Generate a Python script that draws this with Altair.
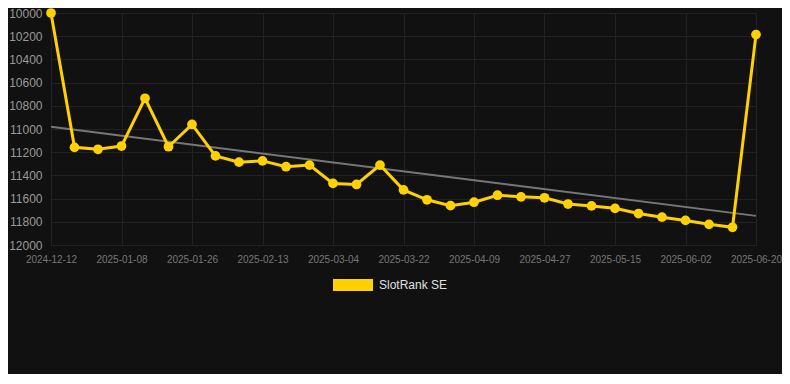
import altair as alt
import pandas as pd

dates = ["2024-12-12", "2024-12-21", "2024-12-30", "2025-01-08", "2025-01-14", "2025-01-20",
         "2025-01-26", "2025-02-01", "2025-02-07", "2025-02-13", "2025-02-19", "2025-02-25",
         "2025-03-04", "2025-03-10", "2025-03-16", "2025-03-22", "2025-03-28", "2025-04-03",
         "2025-04-09", "2025-04-15", "2025-04-21", "2025-04-27", "2025-05-03", "2025-05-09",
         "2025-05-15", "2025-05-21", "2025-05-27", "2025-06-02", "2025-06-08", "2025-06-14",
         "2025-06-20"]
ranks = [10000, 11158, 11175, 11147, 10735, 11153, 10961, 11232, 11286, 11275, 11325, 11311,
         11469, 11478, 11311, 11525, 11610, 11661, 11631, 11571, 11585, 11593, 11647, 11663,
         11684, 11729, 11760, 11788, 11822, 11847, 10186]
series_name = "SlotRank SE"
y_ticks = [10000, 10200, 10400, 10600, 10800, 11000, 11200, 11400, 11600, 11800, 12000]

YELLOW = "#FFD100"

df = pd.DataFrame({"idx": list(range(len(dates))), "date": dates, "rank": ranks,
                   "series": [series_name] * len(dates)})

label_array = "[" + ",".join("'" + d + "'" for d in dates) + "]"

x_enc = alt.X("idx:Q", scale=alt.Scale(domain=[0, len(dates) - 1], nice=False, zero=False),
              axis=alt.Axis(values=list(range(0, len(dates), 3)), labelExpr=label_array + "[datum.value]",
                            title=None, ticks=False, domain=False, labelPadding=9,
                            labelOverlap=False, labelFlush=False, labelFontSize=10,
                            labelColor="#777777", gridColor="#222222",
                            labelFont="Liberation Sans"))
y_enc = alt.Y("rank:Q", scale=alt.Scale(domain=[10000, 12000], reverse=True, nice=False, zero=False),
              axis=alt.Axis(values=y_ticks, format="d", title=None, ticks=False, domain=False,
                            labelPadding=9, labelOverlap=False, labelFlush=False,
                            labelFontSize=12, labelColor="#999999", gridColor="#222222",
                            labelFont="Liberation Sans"))

base = alt.Chart(df)

trend = base.transform_regression("idx", "rank").mark_line(
    color="#777777", strokeWidth=2).encode(x=x_enc, y=y_enc)

line = base.mark_line(color=YELLOW, strokeWidth=3).encode(x=x_enc, y=y_enc)

points = base.mark_point(filled=True, size=95, opacity=1).encode(
    x=x_enc, y=y_enc,
    color=alt.Color("series:N", scale=alt.Scale(domain=[series_name], range=[YELLOW]),
                    legend=alt.Legend(title=None, orient="none", legendX=282, legendY=252,
                                      symbolType="M-1,-0.3H1V0.3H-1Z", symbolSize=1600,
                                      symbolStrokeWidth=0, symbolOpacity=1, labelOffset=6,
                                      labelFontSize=12, labelColor="#e0e0e0",
                                      labelFont="Liberation Sans", padding=0)))

chart = alt.layer(trend, line, points).properties(
    width=705, height=232,
    background="#111111",
    autosize=alt.AutoSizeParams(type="none"),
    padding={"left": 43, "top": 5, "right": 26, "bottom": 129},
).configure_view(stroke=None)

chart.save("out.html", embed_options={"renderer": "svg", "actions": False})
